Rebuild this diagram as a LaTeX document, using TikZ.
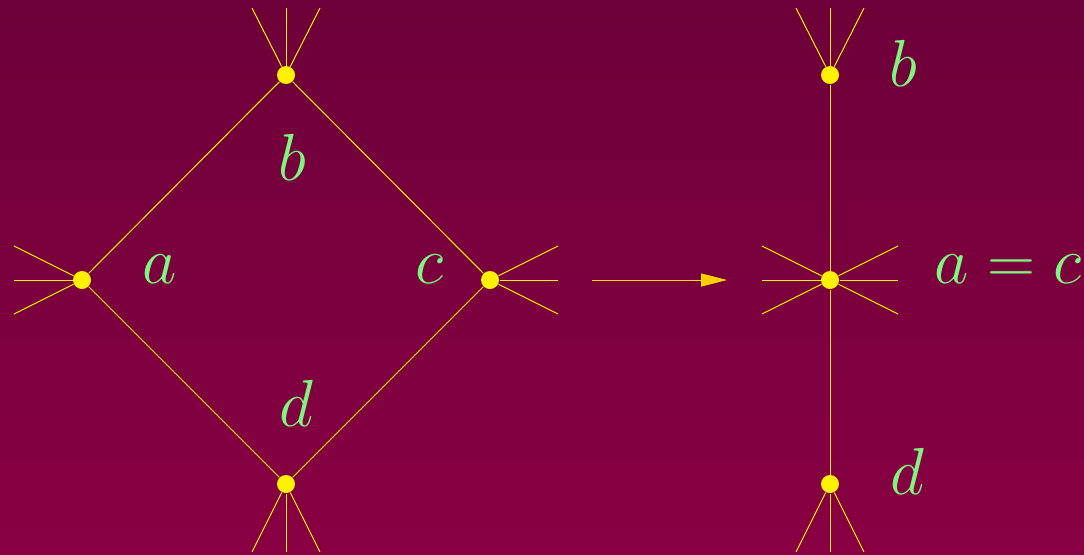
\documentclass[tikz,border=0pt]{standalone}
\usetikzlibrary{arrows.meta}
\definecolor{bgtop}{RGB}{109,0,56}
\definecolor{bgbot}{RGB}{136,0,66}
\definecolor{lbl}{RGB}{128,245,128}
\definecolor{arrcol}{RGB}{255,204,0}
\newcommand{\lbltxt}[1]{\scalebox{1.07}{$#1$}}
\tikzset{
  dot/.style={circle,fill=yellow,draw=none,inner sep=0pt,minimum size=7.2pt},
  edge/.style={draw=yellow,line width=0.4pt},
  lab/.style={text=lbl,font=\Huge,anchor=base,inner sep=0pt},
}
\begin{document}
\begin{tikzpicture}[x=0.4pt,y=-0.4pt]
\shade[top color=bgtop,bottom color=bgbot] (0,0) rectangle (1084,554);
\useasboundingbox (0,0) rectangle (1084,554);
% left diamond
\node[dot] (a) at (82,280) {};
\node[dot] (b) at (286,75) {};
\node[dot] (c) at (490,280) {};
\node[dot] (d) at (286,484) {};
% right
\node[dot] (rb) at (830,75) {};
\node[dot] (ac) at (830,280) {};
\node[dot] (rd) at (830,484) {};
% stub ends
\foreach \n/\x/\y in {a1/14/246,a2/14/280,a3/14/314,
                      c1/558/246,c2/558/280,c3/558/314,
                      b1/252/8,b2/286/8,b3/320/8,
                      d1/252/552,d2/286/552,d3/320/552,
                      rb1/796/8,rb2/830/8,rb3/864/8,
                      rd1/796/552,rd2/830/552,rd3/864/552,
                      l1/762/246,l2/762/280,l3/762/314,
                      r1/898/246,r2/898/280,r3/898/314}
  \coordinate (\n) at (\x,\y);
\draw[edge] (a) -- (b) -- (c) -- (d) -- (a);
\foreach \s/\e in {a/a1,a/a2,a/a3,c/c1,c/c2,c/c3,b/b1,b/b2,b/b3,d/d1,d/d2,d/d3,
                   rb/rb1,rb/rb2,rb/rb3,rd/rd1,rd/rd2,rd/rd3,
                   ac/l1,ac/l2,ac/l3,ac/r1,ac/r2,ac/r3}
  \draw[edge] (\s) -- (\e);
\draw[edge] (rb) -- (ac) -- (rd);
% arrow
\coordinate (arrS) at (592,280);
\coordinate (arrE) at (727,280);
\draw[draw=yellow!60!arrcol,line width=0.4pt,-{Triangle[length=10.4pt,width=5.2pt,fill=arrcol]}] (arrS) -- (arrE);
% labels
\node[lab] (la) at (160,283) {\lbltxt{a}};
\node[lab] (lb) at (292,180) {\lbltxt{b}};
\node[lab] (lc) at (430,283) {\lbltxt{c}};
\node[lab] (ld) at (296,426) {\lbltxt{d}};
\node[lab] (lrb) at (903,86) {\lbltxt{b}};
\node[lab] (lac) at (1008,283) {\lbltxt{a=c}};
\node[lab] (lrd) at (907,494) {\lbltxt{d}};
\end{tikzpicture}
\end{document}
